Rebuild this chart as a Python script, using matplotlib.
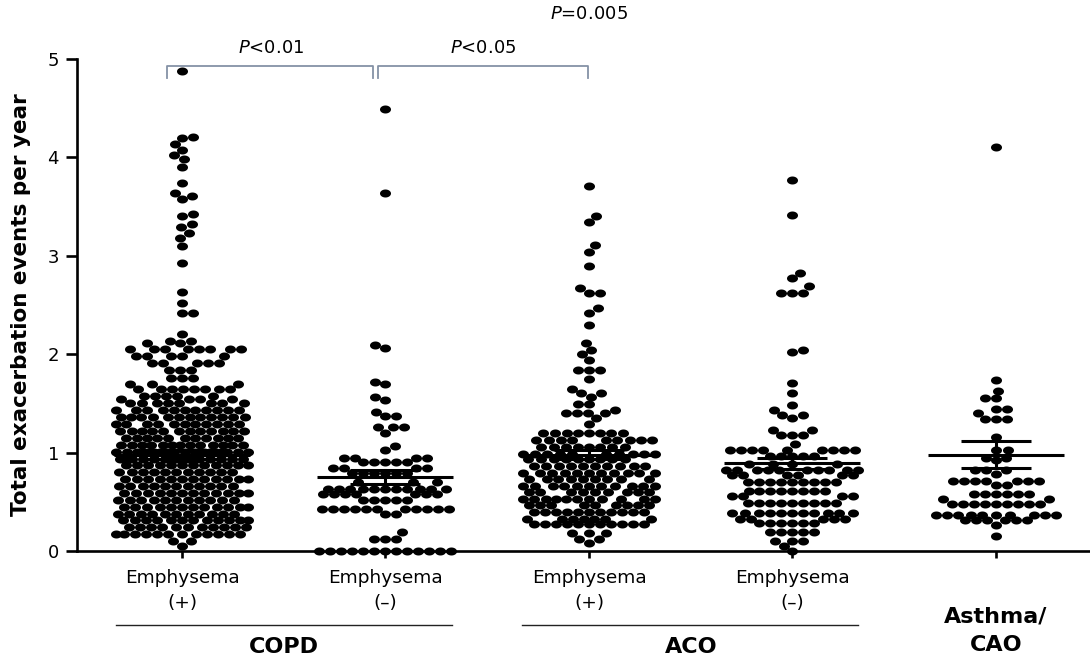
import numpy as np
import matplotlib
matplotlib.use("Agg")
import matplotlib.pyplot as plt
from matplotlib.path import Path
from matplotlib.transforms import blended_transform_factory

# ---------------- data ----------------
group_positions = [0, 1, 2, 3, 4]
subgroup_labels = ["Emphysema\n(+)", "Emphysema\n(\u2013)", "Emphysema\n(+)", "Emphysema\n(\u2013)", ""]

copd_pos_values = [4.88, 4.21, 4.20, 4.14, 4.08, 4.02, 3.98, 3.90, 3.74, 3.64, 3.61, 3.58,
                   3.42, 3.40, 3.32, 3.29, 3.23, 3.18, 3.10, 2.93, 2.63, 2.52, 2.42, 2.21,
                   2.13, 2.11, 2.05, 1.98, 1.91, 1.84, 1.76, 1.70, 1.65, 1.58, 1.54,
                   1.50, 1.43, 1.36, 1.29, 1.22, 1.15, 1.08, 1.01, 0.94, 0.87, 0.80,
                   0.73, 0.66, 0.59, 0.52, 0.45, 0.38, 0.31, 0.24, 0.17, 0.10, 0.05]
copd_pos_counts = [1, 1, 1, 1, 1, 1, 1, 1, 1, 1, 1, 1,
                   1, 1, 1, 1, 1, 1, 1, 1, 1, 1, 2, 1,
                   2, 2, 8, 5, 5, 3, 3, 3, 8, 5, 4,
                   8, 11, 12, 11, 12, 11, 13, 18, 16, 12, 11,
                   12, 11, 12, 11, 12, 11, 12, 11, 12, 2, 1]

copd_neg_values = [4.49, 3.64, 2.09, 2.06, 1.72, 1.70, 1.56, 1.53, 1.41, 1.37, 1.26, 1.20,
                   1.07, 1.03, 0.95, 0.90, 0.84, 0.79, 0.70, 0.63, 0.58, 0.52, 0.43, 0.38,
                   0.19, 0.12, 0.00]
copd_neg_counts = [1, 1, 1, 1, 1, 1, 1, 1, 1, 2, 3, 1,
                   1, 1, 4, 5, 4, 6, 3, 11, 7, 5, 11, 2,
                   1, 3, 13]

aco_pos_values = [3.71, 3.40, 3.34, 3.11, 3.04, 2.90, 2.67, 2.62, 2.47, 2.42, 2.30, 2.11,
                  2.04, 2.00, 1.94, 1.84, 1.75, 1.65, 1.61, 1.57, 1.49, 1.43, 1.40, 1.35,
                  1.29, 1.20, 1.13, 1.06, 0.99, 0.93, 0.86, 0.79, 0.73, 0.66, 0.60, 0.53,
                  0.47, 0.40, 0.33, 0.27, 0.18, 0.12, 0.08]
aco_pos_counts = [1, 1, 1, 1, 1, 1, 1, 2, 1, 1, 1, 1,
                  1, 1, 1, 3, 1, 1, 2, 1, 2, 1, 4, 1,
                  1, 8, 9, 8, 10, 9, 10, 11, 9, 11, 9, 11,
                  9, 11, 7, 11, 3, 2, 1]

aco_neg_values = [3.77, 3.41, 2.83, 2.77, 2.69, 2.62, 2.04, 2.02, 1.71, 1.61, 1.48, 1.43,
                  1.38, 1.35, 1.23, 1.18, 1.09, 1.03, 0.97, 0.88, 0.82, 0.77, 0.70, 0.61,
                  0.56, 0.49, 0.39, 0.33, 0.28, 0.19, 0.10, 0.05, 0.00]
aco_neg_counts = [1, 1, 1, 1, 1, 3, 1, 1, 1, 1, 1, 1,
                  2, 1, 2, 3, 1, 9, 5, 4, 10, 6, 9, 8,
                  4, 9, 11, 5, 6, 5, 3, 1, 1]

asthma_values = [4.11, 1.74, 1.63, 1.55, 1.44, 1.40, 1.34, 1.16, 1.03, 0.95, 0.92, 0.82,
                 0.78, 0.71, 0.67, 0.58, 0.53, 0.48, 0.37, 0.31, 0.26, 0.15]
asthma_counts = [1, 1, 1, 2, 2, 1, 3, 1, 2, 2, 1, 3,
                 1, 7, 2, 6, 2, 9, 10, 6, 1, 1]

group_means = [0.98, 0.75, 0.98, 0.89, 0.98]
group_sems = [0.05, 0.07, 0.05, 0.06, 0.14]

p_labels = ["P<0.01", "P<0.05", "P=0.005"]

# ---------------- figure ----------------
W, H = 1090, 662
fig = plt.figure(figsize=(W / 100, H / 100), dpi=100)
ax = fig.add_axes([77 / W, (H - 551) / H, 1 - 77 / W, (551 - 59) / H])
ax.set_xlim(-0.516, 4.462)
ax.set_ylim(0, 5)

for s in ["top", "right"]:
    ax.spines[s].set_visible(False)
ax.spines["left"].set_linewidth(1.9)
ax.spines["bottom"].set_linewidth(1.9)
ax.set_yticks([0, 1, 2, 3, 4, 5])
ax.set_yticklabels(["0", "1", "2", "3", "4", "5"], fontsize=13)
ax.tick_params(axis="y", direction="out", length=8, width=1.9, pad=5)
ax.set_xticks(group_positions)
ax.set_xticklabels([""] * 5)
ax.tick_params(axis="x", direction="out", length=5, width=1.9)

# pixel scales
p0 = ax.transData.transform((0, 0))
p1 = ax.transData.transform((1, 1))
ppu_x = p1[0] - p0[0]
ppu_y = p1[1] - p0[1]

DOT_W, DOT_H = 11.0, 8.0   # pixel size of the elliptical dots
HALF_W = 66.0              # max half width of a swarm (pixels)


def swarm_offsets(vals):
    vals = np.asarray(vals, dtype=float)
    order = np.argsort(vals, kind="stable")
    ys = vals * ppu_y * (DOT_W / DOT_H)
    px, py = [], []
    xs = np.zeros(len(vals))
    for k, i in enumerate(order):
        y = ys[i]
        ax_ = np.array(px)
        ay_ = np.array(py)
        if len(ax_):
            dy = np.abs(ay_ - y)
            m = dy < DOT_W
            nx = ax_[m]
            ny = ay_[m]
            half = np.sqrt(DOT_W ** 2 - dy[m] ** 2)
        else:
            nx = ny = half = np.array([])
        cands = np.concatenate([[0.0], nx - half, nx + half])
        valid = []
        for c in cands:
            if abs(c) > HALF_W + 1e-6:
                continue
            if len(nx) and np.any((c > nx - half + 1e-6) & (c < nx + half - 1e-6)):
                continue
            valid.append(c)
        if valid:
            sgn = 1 if k % 2 else -1
            best = min(valid, key=lambda c: (round(abs(c), 3), sgn * c))
        else:
            grid = np.linspace(-HALF_W, HALF_W, 133)
            d = np.min((grid[:, None] - nx[None, :]) ** 2 + (y - ny[None, :]) ** 2, axis=1)
            best = grid[np.argmax(d - 1e-3 * np.abs(grid))]
        xs[i] = best
        px.append(best)
        py.append(y)
    return xs / ppu_x


theta = np.linspace(0, 2 * np.pi, 60)
ell_verts = np.column_stack([np.cos(theta), (DOT_H / DOT_W) * np.sin(theta)])
ellipse = Path(ell_verts, closed=True)
msize_pt = DOT_W * 72 / 100

groups = [(copd_pos_values, copd_pos_counts), (copd_neg_values, copd_neg_counts),
          (aco_pos_values, aco_pos_counts), (aco_neg_values, aco_neg_counts),
          (asthma_values, asthma_counts)]

for gx, (vals, cnts) in zip(group_positions, groups):
    data = np.repeat(np.array(vals), np.array(cnts))
    offs = swarm_offsets(data)
    ax.scatter(gx + offs, data, s=msize_pt ** 2, marker=ellipse, c="black",
               linewidths=0, zorder=3, clip_on=False)

# mean and SEM
mean_hw = 68 / ppu_x
cap_hw = 35 / ppu_x
for gx, m, se in zip(group_positions, group_means, group_sems):
    ax.plot([gx - mean_hw, gx + mean_hw], [m, m], color="black", lw=2.2, zorder=4,
            solid_capstyle="butt")
    ax.plot([gx, gx], [m - se, m + se], color="black", lw=2.2, zorder=4)
    for yy in (m - se, m + se):
        ax.plot([gx - cap_hw, gx + cap_hw], [yy, yy], color="black", lw=2.2, zorder=4,
                solid_capstyle="butt")

# significance brackets
bcol = "#8592a6"
br_y, br_tick = 4.93, 4.81
brackets = [(-0.074, 0.94), (0.965, 1.995)]
for (xa, xb) in brackets:
    ax.plot([xa, xa, xb, xb], [br_tick, br_y, br_y, br_tick], color=bcol, lw=1.3,
            clip_on=False, zorder=2)
ax.text(0.44, 5.02, r"$\mathit{P}$<0.01".replace("P<0.01", p_labels[0][1:]), fontsize=13,
        ha="center", va="bottom", clip_on=False)
ax.text(1.48, 5.02, r"$\mathit{P}$" + p_labels[1][1:], fontsize=13,
        ha="center", va="bottom", clip_on=False)
ax.text(2.0, 5.37, r"$\mathit{P}$" + p_labels[2][1:], fontsize=13,
        ha="center", va="bottom", clip_on=False)

# category labels below the axis
bt = blended_transform_factory(ax.transData, fig.transFigure)
for gx, lab in zip(group_positions, subgroup_labels):
    if lab:
        l1, l2 = lab.split("\n")
        ax.text(gx, 1 - 578 / H, l1, transform=bt, ha="center", va="center", fontsize=13.3)
        ax.text(gx, 1 - 603 / H, l2, transform=bt, ha="center", va="center", fontsize=13.3)

line_y = 1 - 625 / H
ax.plot([-0.324, 1.327], [line_y, line_y], transform=bt, color="#222222", lw=1.0, clip_on=False)
ax.plot([1.671, 3.322], [line_y, line_y], transform=bt, color="#222222", lw=1.0, clip_on=False)
ax.text(0.5, 1 - 647 / H, "COPD", transform=bt, ha="center", va="center",
        fontsize=16, fontweight="bold")
ax.text(2.5, 1 - 647 / H, "ACO", transform=bt, ha="center", va="center",
        fontsize=16, fontweight="bold")
ax.text(4, 1 - 616 / H, "Asthma/", transform=bt, ha="center", va="center",
        fontsize=16, fontweight="bold")
ax.text(4, 1 - 645 / H, "CAO", transform=bt, ha="center", va="center",
        fontsize=16, fontweight="bold")

fig.text(21 / W, 1 - 305 / H, "Total exacerbation events per year", rotation=90,
         ha="center", va="center", fontsize=15.5, fontweight="bold")

fig.savefig("out.png", dpi=100)
